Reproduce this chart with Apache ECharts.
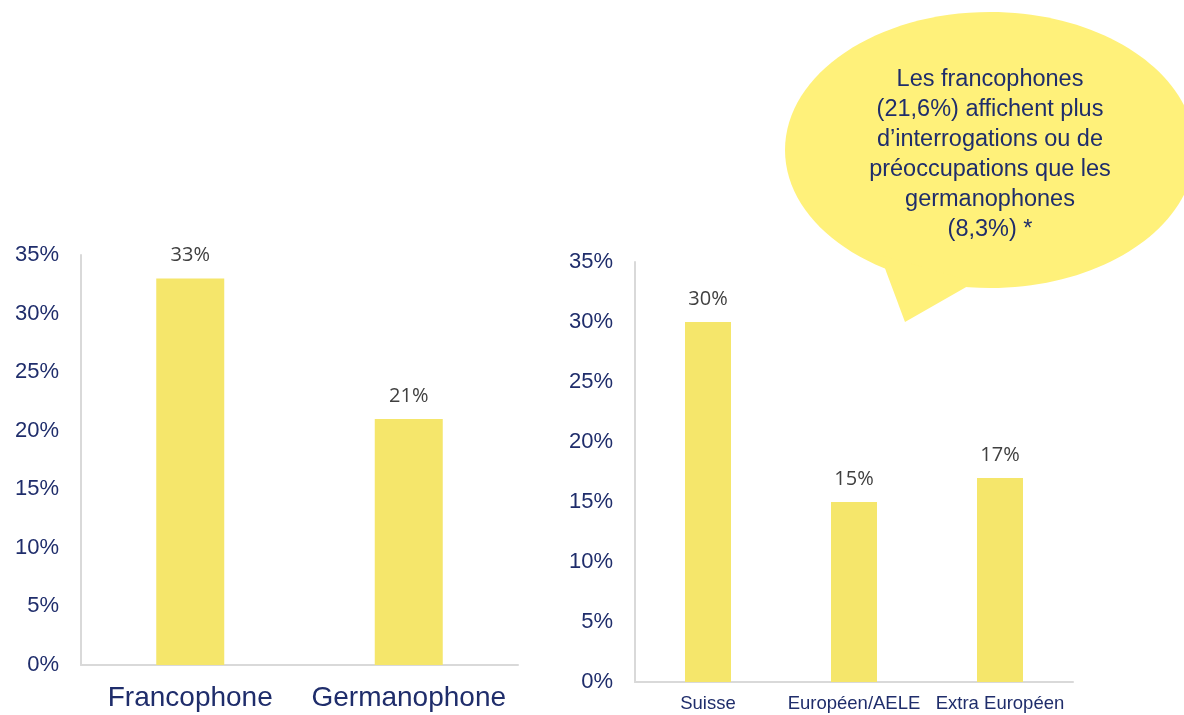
<!DOCTYPE html>
<html><head><meta charset="utf-8">
<script src="https://cdn.jsdelivr.net/npm/echarts@6/dist/echarts.min.js"></script>
<style>html,body{margin:0;padding:0;background:#fff}#c{width:1184px;height:715px}</style>
</head><body><div id="c"></div>
<script>
const langCategories = ['Francophone', 'Germanophone'];
const langValues = [33, 21];
const originCategories = ['Suisse', 'Européen/AELE', 'Extra Européen'];
const originValues = [30, 15, 17];
const yTicks = [0, 5, 10, 15, 20, 25, 30, 35];
const bubbleLines = ['Les francophones', '(21,6%) affichent plus', 'd\u2019interrogations ou de', 'préoccupations que les', 'germanophones', '(8,3%) *'];

const navy = '#1F2D6B';
const barColor = '#F5E66B';
const axisColor = '#D9D9D9';
const chart = echarts.init(document.getElementById('c'));

function yAxis(gridIndex){
  return {type:'value', gridIndex, min:yTicks[0], max:yTicks[yTicks.length-1], interval:5,
    axisLine:{show:true, lineStyle:{color:axisColor, width:2}}, axisTick:{show:false}, splitLine:{show:false},
    axisLabel:{formatter:'{value}%', color:navy, fontFamily:'Liberation Sans', fontSize:22, margin:22}};
}
function xAxis(gridIndex, data, fs, margin){
  return {type:'category', gridIndex, data,
    axisLine:{show:true, lineStyle:{color:axisColor, width:2}}, axisTick:{show:false},
    axisLabel:{color:navy, fontFamily:'Liberation Sans', fontSize:fs, margin, interval:0}};
}
function series(i, data, bw){
  return {type:'bar', xAxisIndex:i, yAxisIndex:i, data, barWidth:bw, itemStyle:{color:barColor},
    label:{show:true, position:'top', distance:13, formatter:'{c}%', color:'#404040', fontFamily:'Open Sans', fontSize:20}};
}
chart.setOption({
  animation:false,
  grid:[{left:81, right:666, top:255, bottom:50},{left:635, right:111, top:262, bottom:33}],
  xAxis:[xAxis(0, langCategories, 28, 19), xAxis(1, originCategories, 18.5, 12)],
  yAxis:[yAxis(0), yAxis(1)],
  series:[series(0, langValues, 68), series(1, originValues, 46)],
  graphic:[
    {type:'ellipse', shape:{cx:990, cy:150, rx:205, ry:138}, style:{fill:'#FFF17A'}, z:10},
    {type:'polygon', shape:{points:[[880,255],[905,322],[975,282]]}, style:{fill:'#FFF17A'}, z:10},
    {type:'text', x:990, y:65, z:11, style:{text:bubbleLines.join('\n'), fill:navy, fontFamily:'Liberation Sans', fontSize:23.5, lineHeight:30, align:'center', verticalAlign:'top'}}
  ]
});
</script></body></html>
